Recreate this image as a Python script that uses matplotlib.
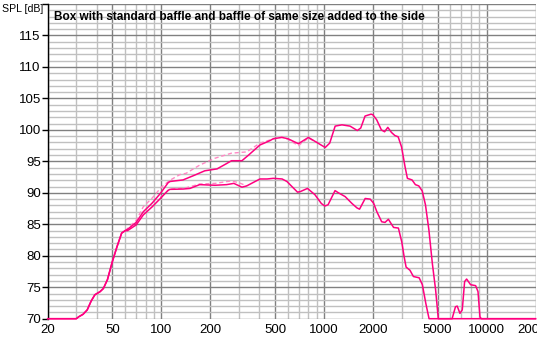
import matplotlib
matplotlib.use("Agg")
import matplotlib.pyplot as plt
import matplotlib.ticker as ticker

# Shared low-frequency part (both curves identical below ~60 Hz)
low_freq = [20, 30, 31, 33, 35, 37, 39, 42, 44, 46.6, 50, 53.3, 57, 60]
low_spl = [70, 70, 70.3, 70.7, 71.4, 72.8, 73.8, 74.3, 74.8, 76.2, 79.1, 81.4, 83.6, 84.0]

# Baffle added to the side (upper curve)
upper_freq = [62, 70, 77.5, 88, 98.6, 110, 113, 136, 160, 185, 220, 250, 270, 313, 344,
              404, 466, 488, 551, 600, 696, 802, 905, 1018, 1085, 1172, 1290, 1446,
              1604, 1684, 1790, 1950, 2000, 2110, 2255, 2360, 2470, 2600, 2730, 2860,
              3000, 3150, 3260, 3480, 3650, 3830, 4020, 4210, 4420, 4640, 4860, 5050,
              6140, 6440, 6600, 6860, 7090, 7330, 7540, 7980, 8570, 8860, 9110, 9280, 20000]
upper_spl = [84.2, 85.3, 87.0, 88.4, 89.9, 91.6, 91.8, 92.05, 92.8, 93.5, 93.8, 94.6, 95.1, 95.1, 96.0,
             97.6, 98.3, 98.6, 98.8, 98.6, 97.8, 98.8, 98.0, 97.2, 97.9, 100.6, 100.8, 100.6,
             99.9, 100.3, 102.2, 102.5, 102.4, 101.6, 100.0, 99.7, 100.4, 99.6, 99.1, 98.9,
             97.3, 94.2, 92.3, 92.05, 91.3, 91.1, 90.3, 88.1, 84.1, 78.8, 74.6, 70,
             70, 71.9, 72.0, 70.85, 71.4, 75.9, 76.3, 75.4, 75.25, 74.3, 70.3, 70, 70]

upper_ref_freq = [60, 70, 77.5, 88, 100, 113, 130, 142, 172, 214, 270, 335, 404, 466, 551, 600, 696, 802, 905]
upper_ref_spl = [84.0, 85.6, 87.8, 89.2, 90.9, 92.0, 92.9, 93.1, 94.4, 95.5, 96.3, 96.5, 97.9, 98.4, 98.9, 98.5, 97.5, 98.7, 98.0]

# Standard baffle (lower curve)
lower_freq = [62, 70, 77.5, 88, 98.6, 110, 113, 136, 150, 172, 214, 252, 279, 313, 335,
              404, 447, 488, 553, 592, 688, 716, 792, 880, 964, 1012, 1060, 1170, 1228,
              1350, 1488, 1597, 1655, 1793, 1925, 2020, 2115, 2265, 2375, 2490, 2680, 2870,
              3010, 3110, 3200, 3380, 3550, 3850, 4030, 4230, 4430, 20000]
lower_spl = [84.0, 84.9, 86.5, 87.8, 89.1, 90.4, 90.55, 90.6, 90.7, 91.3, 91.2, 91.3, 91.5, 90.9, 91.1,
             92.2, 92.2, 92.3, 92.2, 91.8, 90.1, 90.2, 90.7, 89.7, 88.3, 87.9, 88.1, 90.35, 90.0,
             89.4, 88.3, 87.6, 87.4, 89.1, 89.0, 88.35, 87.0, 85.4, 85.3, 85.8, 84.5, 84.4,
             82.2, 79.9, 78.2, 77.7, 76.7, 76.5, 75.4, 72.45, 70, 70]

lower_ref_freq = [98.6, 113, 142, 172, 214, 270, 300, 335]
lower_ref_spl = [89.3, 90.6, 90.8, 91.4, 91.5, 91.9, 91.6, 91.1]

title = "Box with standard baffle and baffle of same size added to the side"
x_ticks = [20, 50, 100, 200, 500, 1000, 2000, 5000, 10000, 20000]
y_ticks = [70, 75, 80, 85, 90, 95, 100, 105, 110, 115]

plt.rcParams['font.family'] = ['Liberation Sans', 'DejaVu Sans']

fig = plt.figure(figsize=(5.37, 3.40), dpi=100)
ax = fig.add_axes([47.7 / 537, 21.3 / 340, 487.8 / 537, 314.7 / 340])

solid = "#FF0080"
light = "#FF88C4"

ax.plot(upper_ref_freq, upper_ref_spl, color=light, lw=1.0, ls=(0, (3, 2)), zorder=3, clip_on=False)
ax.plot(lower_ref_freq, lower_ref_spl, color=light, lw=1.0, ls=(0, (3, 2)), zorder=3, clip_on=False)
ax.plot(low_freq + upper_freq, low_spl + upper_spl, color=solid, lw=1.1, zorder=4, clip_on=False)
ax.plot(low_freq + lower_freq, low_spl + lower_spl, color=solid, lw=1.1, zorder=4, clip_on=False)

ax.set_xscale("log")
ax.set_xlim(20, 20000)
ax.set_ylim(70, 120)

ax.set_xticks(x_ticks)
ax.set_xticklabels([str(t) for t in x_ticks])
ax.xaxis.set_minor_locator(ticker.LogLocator(base=10, subs=[3, 4, 6, 7, 8, 9]))
ax.xaxis.set_minor_formatter(ticker.NullFormatter())
ax.set_yticks(y_ticks + [120])
ax.set_yticklabels([str(t) for t in y_ticks] + [""])
ax.yaxis.set_minor_locator(ticker.MultipleLocator(1))

ax.grid(which="major", color="#808080", lw=1.0, zorder=1)
ax.grid(which="minor", color="#C0C0C0", lw=1.0, zorder=0)
ax.set_axisbelow(True)

ax.tick_params(axis="x", which="both", length=0, labelsize=9.5, pad=4, colors="black")
ax.tick_params(axis="y", which="major", length=4, width=1, labelsize=9.5, pad=1, colors="black")
ax.tick_params(axis="y", which="minor", length=0)

for side in ["top", "right", "bottom"]:
    ax.spines[side].set_visible(False)
ax.spines["left"].set_color("black")
ax.spines["left"].set_linewidth(1.0)

fig.text(2 / 537, 1 - 9 / 340, "SPL [dB]", fontsize=7.6, va="center", ha="left")
ax.text((53.5 - 47.7) / 487.8, 1 - 13.5 / 314.7, title, transform=ax.transAxes,
        fontsize=8.5, fontweight="bold", va="center", ha="left", zorder=5)

fig.savefig("out.png", dpi=100)
